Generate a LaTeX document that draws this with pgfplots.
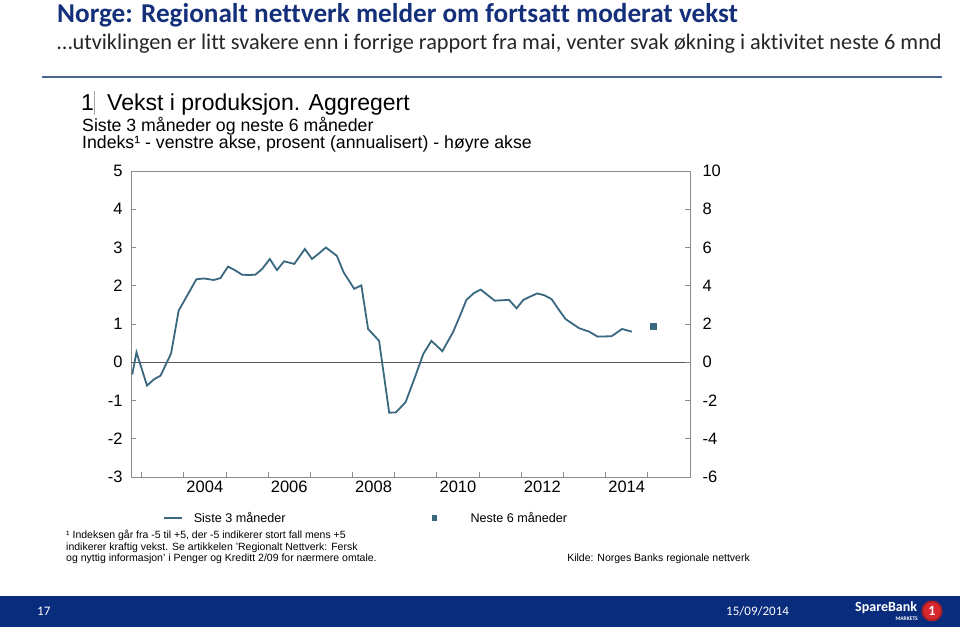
\documentclass[border=0pt]{standalone}
\usepackage{pgfplots}
\pgfplotsset{compat=1.18}
\usepackage{fontspec}
\setmainfont{Liberation Sans}
\newfontfamily\calfont[Ligatures={NoCommon}]{Carlito}
\definecolor{navy}{HTML}{14307A}
\definecolor{foot}{HTML}{0A2C7C}
\definecolor{rule}{HTML}{4A6591}
\definecolor{ser}{HTML}{3A6880}
\definecolor{axg}{HTML}{8C8C8C}
\definecolor{sbred}{HTML}{D7282F}
\pgfplotsset{
  linelegend/.style={legend image code/.code={\draw[##1] (0pt,0pt) -- (18pt,0pt);}},
  marklegend/.style={legend image code/.code={\path[draw=none,fill=none] (-3pt,0pt) rectangle (25pt,0.1pt); \fill[ser, draw=none] (-2.7pt,-2.7pt) rectangle (2.7pt,2.7pt);}},
}
\pgfplotstableread{
x y
2002.78 -0.32
2002.88 0.26
2003.13 -0.61
2003.29 -0.45
2003.45 -0.35
2003.70 0.23
2003.88 1.35
2004.08 1.74
2004.30 2.17
2004.48 2.19
2004.71 2.15
2004.87 2.20
2005.05 2.50
2005.21 2.41
2005.38 2.29
2005.54 2.28
2005.70 2.29
2005.86 2.44
2006.04 2.70
2006.21 2.41
2006.38 2.64
2006.62 2.57
2006.87 2.96
2007.04 2.70
2007.21 2.85
2007.37 3.00
2007.63 2.78
2007.79 2.35
2008.04 1.92
2008.21 2.01
2008.37 0.87
2008.63 0.56
2008.87 -1.32
2009.03 -1.31
2009.26 -1.04
2009.47 -0.42
2009.68 0.22
2009.87 0.56
2010.13 0.29
2010.38 0.78
2010.55 1.22
2010.70 1.63
2010.88 1.81
2011.04 1.90
2011.21 1.75
2011.37 1.61
2011.54 1.62
2011.71 1.63
2011.89 1.41
2012.05 1.63
2012.22 1.72
2012.38 1.80
2012.55 1.75
2012.72 1.65
2012.88 1.39
2013.05 1.13
2013.37 0.89
2013.61 0.80
2013.81 0.67
2014.14 0.68
2014.39 0.87
2014.62 0.80
}\siste
\pgfplotstableread{
x y
2015.12 0.94
}\neste
\begin{document}
\begin{tikzpicture}[x=1pt,y=1pt]
\fill[white] (0,0) rectangle (960,631);
% slide title
\node[anchor=base west, inner sep=0, text=navy] at (57,608) {\calfont\bfseries\fontsize{27.2}{30}\selectfont Norge: Regionalt nettverk melder om fortsatt moderat vekst};
\node[anchor=base west, inner sep=0, text=black!85] at (57,581) {\calfont\fontsize{22.3}{24}\selectfont …utviklingen er litt svakere enn i forrige rapport fra mai, venter svak økning i aktivitet neste 6 mnd};
\draw[rule, line width=1.3pt] (42,554) -- (942,554);
% chart titles
\node[anchor=base west, inner sep=0] at (81,520) {\fontsize{23}{25}\selectfont 1};
\node[anchor=base west, inner sep=0] at (107,520) {\fontsize{23}{25}\selectfont Vekst i produksjon. Aggregert};
\draw[black!35, line width=0.6pt] (94,516) -- (94,540);
\node[anchor=base west, inner sep=0] at (82,499.5) {\fontsize{17.7}{19}\selectfont Siste 3 måneder og neste 6 måneder};
\node[anchor=base west, inner sep=0] at (82,482.5) {\fontsize{17.7}{19}\selectfont Indeks¹ - venstre akse, prosent (annualisert) - høyre akse};
% axes
\begin{axis}[
  at={(131pt,154pt)}, anchor=south west,
  width=559pt, height=306pt, scale only axis,
  xmin=2002.75, xmax=2016, ymin=-3, ymax=5,
  xtick={2003,...,2015}, xticklabels={},
  extra x ticks={2004.5,2006.5,2008.5,2010.5,2012.5,2014.5},
  extra x tick labels={2004,2006,2008,2010,2012,2014},
  extra x tick style={major tick length=0pt},
  ytick={-3,...,5},
  xtick pos=left, ytick pos=left,
  tick align=inside, major tick length=5pt,
  axis line style={axg, line width=0.8pt},
  tick style={axg, line width=0.8pt},
  ticklabel style={font=\fontsize{16.5}{18}\selectfont},
  /pgf/number format/assume math mode=true,
  yticklabel style={xshift=-5pt},
  legend columns=2,
  legend style={draw=none, fill=none, inner sep=0pt, outer sep=0pt,
    at={(0.0572,-0.134)}, anchor=west,
    font=\fontsize{12.6}{14}\selectfont,
    nodes={inner sep=0pt},
    /tikz/every odd column/.append style={column sep=11pt},
    /tikz/every even column/.append style={column sep=146pt}},
]
\draw[black!65, line width=0.9pt] (axis cs:2002.75,0) -- (axis cs:2016,0);
\addplot[ser, line width=1.8pt, mark=none, linelegend] table[x=x,y=y] {\siste};
\addlegendentry{Siste 3 måneder}
\addplot[ser, only marks, mark=square*, mark size=2.9pt, marklegend] table[x=x,y=y] {\neste};
\addlegendentry{Neste 6 måneder}
\end{axis}
\begin{axis}[
  at={(131pt,154pt)}, anchor=south west,
  width=559pt, height=306pt, scale only axis,
  xmin=2002.75, xmax=2016, ymin=-6, ymax=10,
  ytick={-6,-4,...,10},
  hide x axis, axis y line*=right,
  ytick pos=right, yticklabel pos=right,
  tick align=inside, major tick length=5pt,
  axis line style={axg, line width=0.8pt},
  tick style={axg, line width=0.8pt},
  ticklabel style={font=\fontsize{16.5}{18}\selectfont},
  /pgf/number format/assume math mode=true,
  yticklabel style={anchor=west, xshift=9pt},
]
\end{axis}
% footnote
\node[anchor=base west, inner sep=0, font=\fontsize{10.5}{12}\selectfont] at (66,92) {¹ Indeksen går fra -5 til +5, der -5 indikerer stort fall mens +5};
\node[anchor=base west, inner sep=0, font=\fontsize{10.5}{12}\selectfont] at (66,80.5) {indikerer kraftig vekst. Se artikkelen 'Regionalt Nettverk: Fersk};
\node[anchor=base west, inner sep=0, font=\fontsize{10.5}{12}\selectfont] at (66,69) {og nyttig informasjon' i Penger og Kreditt 2/09 for nærmere omtale.};
\node[anchor=base east, inner sep=0, font=\fontsize{10.5}{12}\selectfont] at (750,69) {Kilde: Norges Banks regionale nettverk};
% footer
\fill[foot] (0,4) rectangle (960,35);
\node[anchor=base west, inner sep=0, text=white] at (37,15) {\calfont\fontsize{13}{14}\selectfont 17};
\node[anchor=base west, inner sep=0, text=white] at (726,15) {\calfont\fontsize{13}{14}\selectfont 15/09/2014};
\node[anchor=base west, inner sep=0, text=white] at (855,19) {\calfont\bfseries\fontsize{14}{15}\selectfont SpareBank};
\node[anchor=base east, inner sep=0, text=white] at (918,10) {\calfont\bfseries\fontsize{5.5}{6}\selectfont MARKETS};
\fill[sbred!80!black] (932,20) circle (10.5);
\fill[sbred] (932,20) circle (8.5);
\node[text=white, inner sep=0] at (932,20) {\calfont\bfseries\fontsize{14}{14}\selectfont 1};
\end{tikzpicture}
\end{document}
